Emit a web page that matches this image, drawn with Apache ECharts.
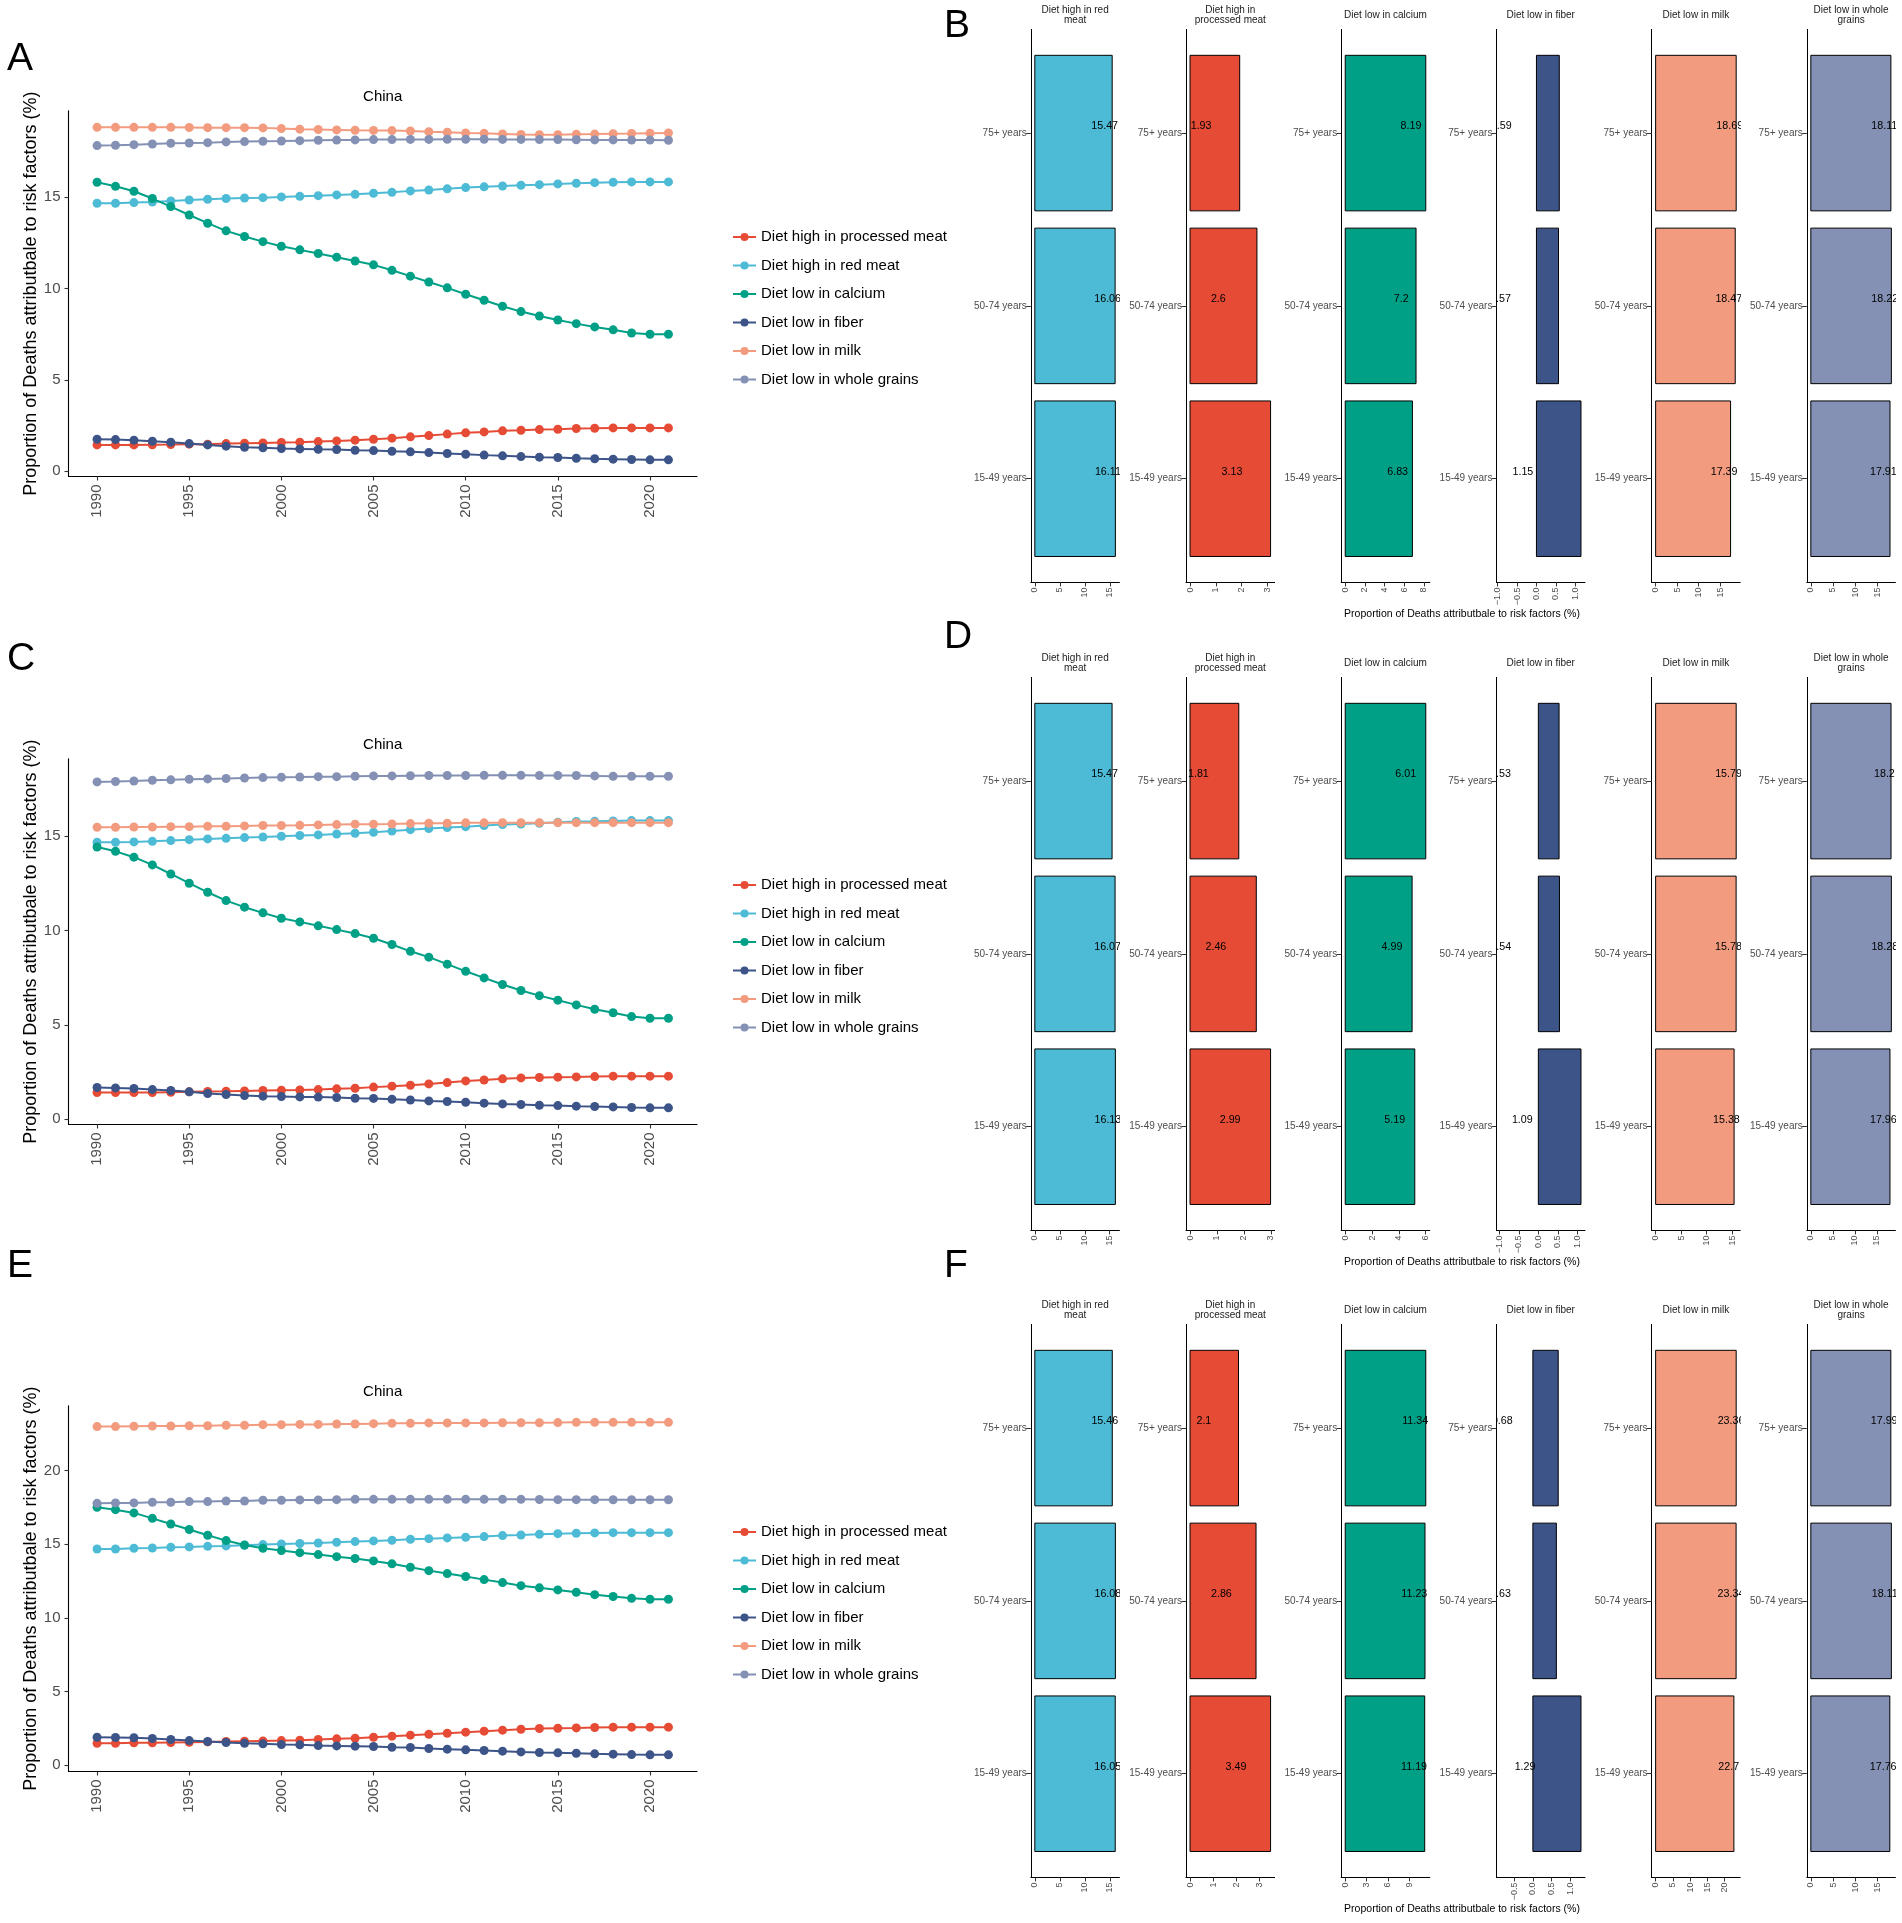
<!DOCTYPE html>
<html>
<head>
<meta charset="utf-8">
<title>Diet risk factors, China</title>
<script src="https://cdn.jsdelivr.net/npm/echarts@6/dist/echarts.min.js"></script>
<style>
  html, body { margin: 0; padding: 0; background: #fff; }
  #chart { width: 1902px; height: 1923px; }
</style>
</head>
<body>
<div id="chart"></div>
<script>
// ---- data ----
var years = [1990, 1991, 1992, 1993, 1994, 1995, 1996, 1997, 1998, 1999, 2000, 2001, 2002, 2003, 2004, 2005,
             2006, 2007, 2008, 2009, 2010, 2011, 2012, 2013, 2014, 2015, 2016, 2017, 2018, 2019, 2020, 2021];
var yearTicks = [1990, 1995, 2000, 2005, 2010, 2015, 2020];

var lineNames = ['Diet high in processed meat', 'Diet high in red meat', 'Diet low in calcium',
                 'Diet low in fiber', 'Diet low in milk', 'Diet low in whole grains'];

// panel A
var aProcessed = [1.44, 1.44, 1.44, 1.45, 1.46, 1.48, 1.48, 1.51, 1.53, 1.55, 1.57, 1.59, 1.62, 1.66, 1.70, 1.75,
                  1.81, 1.88, 1.95, 2.03, 2.10, 2.15, 2.21, 2.24, 2.28, 2.30, 2.34, 2.35, 2.37, 2.37, 2.37, 2.37];
var aRedMeat = [14.67, 14.67, 14.71, 14.74, 14.80, 14.85, 14.89, 14.93, 14.96, 14.98, 15.02, 15.05, 15.09, 15.13, 15.16, 15.22,
                15.27, 15.35, 15.40, 15.46, 15.53, 15.57, 15.62, 15.66, 15.69, 15.73, 15.77, 15.80, 15.82, 15.84, 15.84, 15.84];
var aCalcium = [15.82, 15.60, 15.33, 14.93, 14.49, 14.03, 13.58, 13.16, 12.85, 12.57, 12.32, 12.12, 11.92, 11.72, 11.51, 11.30,
                11.00, 10.68, 10.36, 10.04, 9.69, 9.36, 9.03, 8.74, 8.50, 8.28, 8.08, 7.90, 7.74, 7.57, 7.50, 7.50];
var aFiber = [1.75, 1.73, 1.70, 1.64, 1.59, 1.51, 1.44, 1.37, 1.31, 1.28, 1.24, 1.22, 1.20, 1.19, 1.15, 1.13,
              1.09, 1.06, 1.02, 0.97, 0.93, 0.88, 0.84, 0.80, 0.77, 0.75, 0.71, 0.68, 0.66, 0.64, 0.62, 0.62];
var aMilk = [18.83, 18.83, 18.83, 18.83, 18.83, 18.82, 18.81, 18.81, 18.81, 18.80, 18.76, 18.73, 18.71, 18.69, 18.67, 18.66,
             18.65, 18.63, 18.59, 18.56, 18.52, 18.50, 18.47, 18.44, 18.43, 18.43, 18.45, 18.46, 18.48, 18.49, 18.51, 18.52];
var aGrains = [17.83, 17.85, 17.88, 17.92, 17.96, 17.97, 17.99, 18.03, 18.05, 18.07, 18.08, 18.10, 18.12, 18.13, 18.14, 18.16,
               18.16, 18.17, 18.17, 18.18, 18.18, 18.18, 18.17, 18.17, 18.16, 18.16, 18.15, 18.14, 18.14, 18.13, 18.13, 18.12];
var aYTicks = [0, 5, 10, 15];

// panel C
var cProcessed = [1.41, 1.41, 1.41, 1.41, 1.43, 1.45, 1.47, 1.48, 1.50, 1.52, 1.54, 1.55, 1.57, 1.61, 1.64, 1.70,
                  1.75, 1.80, 1.87, 1.94, 2.03, 2.08, 2.14, 2.19, 2.21, 2.23, 2.24, 2.26, 2.28, 2.28, 2.28, 2.28];
var cRedMeat = [14.68, 14.68, 14.70, 14.73, 14.77, 14.82, 14.86, 14.89, 14.93, 14.96, 15.00, 15.04, 15.07, 15.12, 15.16, 15.21,
                15.28, 15.35, 15.41, 15.46, 15.51, 15.57, 15.62, 15.65, 15.69, 15.74, 15.78, 15.79, 15.81, 15.83, 15.83, 15.83];
var cCalcium = [14.43, 14.20, 13.89, 13.48, 13.00, 12.51, 12.03, 11.59, 11.24, 10.94, 10.65, 10.46, 10.25, 10.05, 9.84, 9.59,
                9.26, 8.90, 8.59, 8.22, 7.84, 7.49, 7.14, 6.82, 6.55, 6.31, 6.06, 5.83, 5.64, 5.44, 5.35, 5.35];
var cFiber = [1.68, 1.66, 1.63, 1.57, 1.52, 1.45, 1.36, 1.31, 1.25, 1.22, 1.20, 1.18, 1.17, 1.15, 1.11, 1.10,
              1.06, 1.02, 0.97, 0.94, 0.90, 0.85, 0.81, 0.78, 0.74, 0.72, 0.69, 0.67, 0.65, 0.62, 0.60, 0.60];
var cMilk = [15.48, 15.48, 15.49, 15.49, 15.51, 15.51, 15.53, 15.53, 15.55, 15.57, 15.57, 15.58, 15.60, 15.62, 15.64, 15.64,
             15.65, 15.67, 15.69, 15.69, 15.71, 15.71, 15.72, 15.72, 15.72, 15.72, 15.72, 15.72, 15.72, 15.72, 15.72, 15.72];
var cGrains = [17.88, 17.90, 17.93, 17.97, 17.99, 18.02, 18.04, 18.06, 18.09, 18.11, 18.13, 18.14, 18.16, 18.16, 18.18, 18.20,
               18.20, 18.21, 18.22, 18.22, 18.22, 18.23, 18.23, 18.23, 18.22, 18.22, 18.22, 18.20, 18.18, 18.18, 18.18, 18.18];
var cYTicks = [0, 5, 10, 15];

// panel E
var eProcessed = [1.49, 1.49, 1.52, 1.52, 1.54, 1.56, 1.58, 1.61, 1.63, 1.65, 1.67, 1.70, 1.74, 1.79, 1.83, 1.90,
                  1.97, 2.04, 2.10, 2.17, 2.24, 2.31, 2.38, 2.44, 2.49, 2.51, 2.53, 2.56, 2.58, 2.58, 2.58, 2.58];
var eRedMeat = [14.68, 14.68, 14.73, 14.75, 14.80, 14.82, 14.86, 14.89, 14.93, 14.98, 15.02, 15.05, 15.09, 15.14, 15.18, 15.23,
                15.27, 15.34, 15.38, 15.43, 15.48, 15.52, 15.59, 15.63, 15.68, 15.72, 15.75, 15.77, 15.79, 15.79, 15.79, 15.79];
var eCalcium = [17.51, 17.35, 17.13, 16.76, 16.38, 16.00, 15.61, 15.25, 14.95, 14.73, 14.57, 14.43, 14.30, 14.16, 14.03, 13.87,
                13.67, 13.44, 13.21, 13.01, 12.81, 12.60, 12.40, 12.19, 12.04, 11.90, 11.74, 11.58, 11.45, 11.33, 11.27, 11.27];
var eFiber = [1.90, 1.88, 1.86, 1.81, 1.74, 1.67, 1.61, 1.54, 1.49, 1.45, 1.40, 1.38, 1.33, 1.31, 1.29, 1.27,
              1.22, 1.20, 1.13, 1.09, 1.04, 1.00, 0.95, 0.90, 0.86, 0.84, 0.81, 0.77, 0.75, 0.72, 0.70, 0.70];
var eMilk = [22.99, 22.99, 23.01, 23.03, 23.03, 23.05, 23.05, 23.08, 23.08, 23.12, 23.12, 23.14, 23.14, 23.17, 23.17, 23.19,
             23.21, 23.21, 23.24, 23.24, 23.24, 23.24, 23.25, 23.25, 23.25, 23.26, 23.28, 23.28, 23.28, 23.28, 23.28, 23.28];
var eGrains = [17.78, 17.81, 17.81, 17.85, 17.85, 17.90, 17.90, 17.94, 17.94, 17.99, 17.99, 18.01, 18.01, 18.03, 18.05, 18.05,
               18.05, 18.05, 18.05, 18.05, 18.05, 18.05, 18.05, 18.05, 18.04, 18.03, 18.03, 18.03, 18.02, 18.02, 18.02, 18.02];
var eYTicks = [0, 5, 10, 15, 20];

// bar facets, values ordered as ageGroups
var ageGroups = ['15-49 years', '50-74 years', '75+ years'];
var facetTitles = ['Diet high in red\nmeat', 'Diet high in\nprocessed meat', 'Diet low in calcium',
                   'Diet low in fiber', 'Diet low in milk', 'Diet low in whole\ngrains'];

var bRedMeat = [16.11, 16.06, 15.47];
var bProcessed = [3.13, 2.6, 1.93];
var bCalcium = [6.83, 7.2, 8.19];
var bFiber = [1.15, 0.57, 0.59];
var bMilk = [17.39, 18.47, 18.69];
var bGrains = [17.91, 18.22, 18.11];
var bTicks = [[0, 5, 10, 15], [0, 1, 2, 3], [0, 2, 4, 6, 8], [-1, -0.5, 0, 0.5, 1], [0, 5, 10, 15], [0, 5, 10, 15]];

var dRedMeat = [16.13, 16.07, 15.47];
var dProcessed = [2.99, 2.46, 1.81];
var dCalcium = [5.19, 4.99, 6.01];
var dFiber = [1.09, 0.54, 0.53];
var dMilk = [15.38, 15.78, 15.79];
var dGrains = [17.96, 18.28, 18.2];
var dTicks = [[0, 5, 10, 15], [0, 1, 2, 3], [0, 2, 4, 6], [-1, -0.5, 0, 0.5, 1], [0, 5, 10, 15], [0, 5, 10, 15]];

var fRedMeat = [16.05, 16.08, 15.46];
var fProcessed = [3.49, 2.86, 2.1];
var fCalcium = [11.19, 11.23, 11.34];
var fFiber = [1.29, 0.63, 0.68];
var fMilk = [22.7, 23.34, 23.36];
var fGrains = [17.76, 18.11, 17.99];
var fTicks = [[0, 5, 10, 15], [0, 1, 2, 3], [0, 3, 6, 9], [-0.5, 0, 0.5, 1], [0, 5, 10, 15, 20], [0, 5, 10, 15]];

// ---- styling / layout ----
var FONT = '"Liberation Sans", Arial, Helvetica, sans-serif';
var lineColors = ['#E64B35', '#4DBBD5', '#00A087', '#3C5488', '#F39B7F', '#8491B4'];
var facetColors = ['#4DBBD5', '#E64B35', '#00A087', '#3C5488', '#F39B7F', '#8491B4'];
var rowTop = [0, 648, 1295];
var letterPos = [[['A', 7, 59], ['B', 944, 26]], [['C', 7, 659], ['D', 944, 637]], [['E', 7, 1266], ['F', 944, 1266]]];
var labelShift = 1.5;   // bar value labels sit 1.5 units left of the bar end
var yTitle = 'Proportion of Deaths attributbale to risk factors (%)';

var lineSets = [
  [aProcessed, aRedMeat, aCalcium, aFiber, aMilk, aGrains],
  [cProcessed, cRedMeat, cCalcium, cFiber, cMilk, cGrains],
  [eProcessed, eRedMeat, eCalcium, eFiber, eMilk, eGrains]
];
var lineYTicks = [aYTicks, cYTicks, eYTicks];
var barSets = [
  [bRedMeat, bProcessed, bCalcium, bFiber, bMilk, bGrains],
  [dRedMeat, dProcessed, dCalcium, dFiber, dMilk, dGrains],
  [fRedMeat, fProcessed, fCalcium, fFiber, fMilk, fGrains]
];
var barTicks = [bTicks, dTicks, fTicks];

function padMin(v) { return v.min - 0.05 * (v.max - v.min); }
function padMax(v) { return v.max + 0.05 * (v.max - v.min); }
function fmtTick(v, dec) {
  var s = dec ? v.toFixed(dec) : String(v);
  return s.replace('-', '\u2212');
}

var grids = [], xAxes = [], yAxes = [], series = [], legends = [], texts = [];

lineSets.forEach(function(set, r) {
  var R = rowTop[r];
  var g = grids.length;
  grids.push({ left: 68.5, top: 110.7 + R, width: 628.5, height: 365.8 });
  xAxes.push({
    gridIndex: g, type: 'value', min: padMin, max: padMax,
    axisLine: { onZero: false, lineStyle: { color: '#000', width: 1.1 } },
    axisTick: { customValues: yearTicks, length: 4, lineStyle: { color: '#333', width: 1.1 } },
    axisLabel: { customValues: yearTicks, rotate: 90, margin: 8, fontSize: 15, color: '#4D4D4D', fontFamily: FONT,
      formatter: function(v) { return String(v); } },
    splitLine: { show: false }
  });
  yAxes.push({
    gridIndex: g, type: 'value', min: padMin, max: padMax,
    name: yTitle, nameLocation: 'middle', nameRotate: 90, nameGap: 27,
    nameTextStyle: { fontSize: 18, color: '#000', fontFamily: FONT },
    axisLine: { onZero: false, lineStyle: { color: '#000', width: 1.1 } },
    axisTick: { customValues: lineYTicks[r], length: 4, lineStyle: { color: '#333', width: 1.1 } },
    axisLabel: { customValues: lineYTicks[r], margin: 8, fontSize: 15, color: '#4D4D4D', fontFamily: FONT },
    splitLine: { show: false }
  });
  set.forEach(function(vals, k) {
    series.push({
      type: 'line', name: lineNames[k], xAxisIndex: g, yAxisIndex: g,
      data: years.map(function(y, i) { return [y, vals[i]]; }),
      symbol: 'circle', symbolSize: 9, showAllSymbol: true,
      lineStyle: { width: 2, color: lineColors[k] },
      itemStyle: { color: lineColors[k] },
      emphasis: { disabled: true }, z: 2 + k
    });
  });
  legends.push({
    orient: 'vertical', left: 727, top: 224 + R,
    itemWidth: 23, itemHeight: 10, itemGap: 12.5, itemTextGap: 12,
    textStyle: { fontSize: 15, lineHeight: 16, color: '#000', fontFamily: FONT },
    data: lineNames, selectedMode: false
  });
  texts.push({ type: 'text', x: 382.7, y: 97 + R,
    style: { text: 'China', fontSize: 15, fill: '#000', fontFamily: FONT, align: 'center', verticalAlign: 'middle' } });

  // bar facets
  barSets[r].forEach(function(vals, i) {
    var lo = Math.min(0, Math.min.apply(null, vals.map(function(v) { return v - labelShift; })));
    var hi = Math.max.apply(null, vals);
    var pad = 0.05 * (hi - lo);
    var ticks = barTicks[r][i];
    var dec = ticks.some(function(t) { return t % 1 !== 0; }) ? 1 : 0;
    var left = 1030.8 + i * 155.2;
    var gb = grids.length;
    grids.push({ left: left, top: 29.4 + R, width: 88.6, height: 553 });
    xAxes.push({
      gridIndex: gb, type: 'value', min: lo - pad, max: hi + pad,
      axisLine: { onZero: false, lineStyle: { color: '#000', width: 1 } },
      axisTick: { customValues: ticks, length: 4, lineStyle: { color: '#333', width: 1 } },
      axisLabel: { customValues: ticks, rotate: 90, margin: 5, fontSize: 9, color: '#4D4D4D', fontFamily: FONT,
        formatter: function(v) { return fmtTick(v, dec); } },
      splitLine: { show: false }
    });
    yAxes.push({
      gridIndex: gb, type: 'value', min: 0.4, max: 3.6,
      axisLine: { onZero: false, lineStyle: { color: '#000', width: 1 } },
      axisTick: { customValues: [1, 2, 3], length: 4.6, lineStyle: { color: '#333', width: 1 } },
      axisLabel: { customValues: [1, 2, 3], margin: 4, fontSize: 10, color: '#4D4D4D', fontFamily: FONT,
        formatter: function(v) { return ageGroups[Math.round(v) - 1]; } },
      splitLine: { show: false }
    });
    var data = vals.map(function(v, j) { return [v, j + 1]; });
    series.push({
      type: 'custom', xAxisIndex: gb, yAxisIndex: gb, data: data, encode: { x: 0, y: 1 },
      renderItem: function(params, api) {
        var p0 = api.coord([0, api.value(1) + 0.45]);
        var p1 = api.coord([api.value(0), api.value(1) - 0.45]);
        return { type: 'rect',
          shape: { x: p0[0], y: p0[1], width: p1[0] - p0[0], height: p1[1] - p0[1] },
          style: { fill: facetColors[i], stroke: '#000', lineWidth: 1 } };
      }
    });
    series.push({
      type: 'custom', xAxisIndex: gb, yAxisIndex: gb, data: data, encode: { x: 0, y: 1 }, clip: true, z: 5,
      renderItem: function(params, api) {
        var v = api.value(0);
        var p = api.coord([v - labelShift, api.value(1)]);
        return { type: 'text', x: p[0], y: p[1] - 7,
          style: { text: String(v), fontSize: 10.7, fill: '#000', fontFamily: FONT, align: 'center', verticalAlign: 'middle' } };
      }
    });
    texts.push({ type: 'text', x: left + 44.3, y: 15 + R,
      style: { text: facetTitles[i], fontSize: 10, lineHeight: 10, fill: '#1a1a1a', fontFamily: FONT, align: 'center', verticalAlign: 'middle' } });
  });
  texts.push({ type: 'text', x: 1462, y: 614 + R,
    style: { text: yTitle, fontSize: 10.5, fill: '#000', fontFamily: FONT, align: 'center', verticalAlign: 'middle' } });

  letterPos[r].forEach(function(l) {
    texts.push({ type: 'text', x: l[1], y: l[2],
      style: { text: l[0], fontSize: 39, fill: '#000', fontFamily: FONT, align: 'left', verticalAlign: 'middle' } });
  });
});

var chart = echarts.init(document.getElementById('chart'), null, { renderer: 'canvas' });
chart.setOption({
  backgroundColor: '#fff',
  animation: false,
  grid: grids,
  xAxis: xAxes,
  yAxis: yAxes,
  legend: legends,
  series: series,
  graphic: { elements: texts }
});
</script>
</body>
</html>
